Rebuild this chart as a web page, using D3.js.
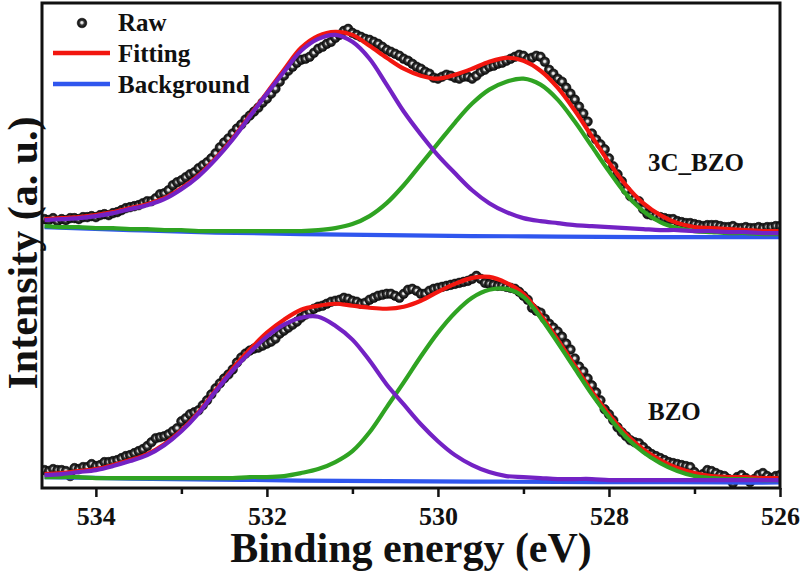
<!DOCTYPE html>
<html>
<head>
<meta charset="utf-8">
<script src="https://cdn.jsdelivr.net/npm/d3@7"></script>
<style>
  html, body { margin: 0; padding: 0; background: #fff; }
  svg { display: block; }
  text { font-family: "Liberation Serif", "Times New Roman", serif; font-weight: bold; fill: #111; }
</style>
</head>
<body>
<svg id="chart" width="800" height="572"></svg>
<script>
// ---------------- DATA ----------------
// Raw data energy grid: 534.60 -> 526.00 eV, step 0.05 eV
const rawStart = 534.6, rawStep = 0.05;
const rawEnergy = d3.range(173).map(i => +(rawStart - i * rawStep).toFixed(2));

// 3C_BZO raw intensities (a.u.)
const raw3C = [270,269,271,268,270,269,271,271,270,272,
  272,273,272,274,275,274,276,277,279,281,
  282,283,284,286,288,288,291,295,296,299,
  304,307,309,312,315,317,321,324,327,331,
  336,342,347,351,356,361,365,370,374,378,
  382,387,391,396,401,408,414,419,423,427,
  430,431,433,437,441,443,446,448,452,455,
  459,461,457,455,453,451,450,448,446,443,
  440,438,436,434,431,429,426,423,421,418,
  416,412,411,413,415,414,412,411,413,413,
  411,414,418,420,423,424,426,427,429,431,
  433,435,434,431,432,434,433,428,420,416,
  411,408,402,396,390,383,376,368,356,350,
  345,340,331,323,315,308,299,293,290,288,
  280,275,274,273,272,271,270,270,268,267,
  266,266,265,264,263,264,264,264,263,262,
  262,263,261,261,262,261,261,262,261,262,
  262,263,263];

// BZO raw intensities (a.u.)
const rawBZO = [18,17,19,18,18,17,12,20,19,21,
  21,24,22,23,26,26,27,28,30,32,
  33,35,37,39,42,46,50,51,52,54,
  57,60,67,70,74,76,78,83,88,94,
  100,105,110,114,119,126,131,135,138,140,
  141,143,145,147,150,155,158,161,164,167,
  171,174,177,180,182,183,185,187,188,189,
  191,190,188,187,185,186,189,191,193,194,
  195,195,193,191,195,199,200,198,195,195,
  198,200,201,202,203,204,205,206,207,208,
  210,213,210,206,205,204,203,203,202,201,
  200,197,193,189,181,178,176,170,165,161,
  157,152,145,139,130,122,117,110,103,96,
  88,79,74,68,61,56,52,48,46,45,
  41,37,34,32,30,28,26,25,24,23,
  22,21,16,10,14,18,17,15,13,12,
  9,5,11,13,10,6,9,13,15,12,
  10,12,13];

// Fit curve energy grid: 534.6 -> 526.0 eV, step 0.2 eV
const fitEnergy = d3.range(44).map(i => +(534.6 - i * 0.2).toFixed(1));

// 3C_BZO fit
const fit3C = [270,271,272,274,277,281,285,291,301,314,
  331,351,374,397,420,442,454,458,455,444,
  432,421,414,411,415,421,428,432,429,419,
  402,379,353,327,304,286,274,266,262,261,
  260,259,258,258];
const peakA3C = [269,270,271,273,276,280,284,290,300,313,
  330,350,373,396,418,439,451,455,448,431,
  405,378,355,334,316,299,286,277,271,268,
  266,264,263,262,261,260,259,259,258,258,
  257,257,256,256];
const peakB3C = [263,262,262,261,261,260,260,259,259,258,
  258,258,258,258,258,258,259,261,265,273,
  286,304,325,346,367,386,400,408,411,405,
  390,368,343,318,295,278,267,261,258,257,
  256,256,255,255];

// BZO fit
const fitBZO = [14,15,17,19,23,28,34,44,58,76,
  98,120,139,156,169,179,183,185,183,181,
  180,182,188,197,205,211,212,206,195,174,
  149,123,97,74,54,39,28,20,15,12,
  11,11,10,10];
const peakABZO = [13,14,16,18,22,27,33,43,57,75,
  97,118,136,152,164,171,172,163,149,128,
  104,84,64,47,33,23,16,12,11,10,
  9,9,9,8,8,8,8,8,8,8,
  8,8,8,8];
const peakBBZO = [11,11,11,10,10,10,10,10,10,10,
  10,10,11,11,12,15,19,26,37,56,
  81,106,132,156,176,191,199,200,192,171,
  146,120,94,71,51,36,25,17,12,10,
  9,9,8,8];

// Backgrounds
const bgEnergy = [534.6, 533.6, 532.6, 531.6, 530.6, 529.6, 528.6, 527.6, 526.6, 526.0];
const bg3C  = [262, 259, 256.5, 255, 254, 253, 252.5, 252, 252, 252];
const bgBZO = [11, 9.5, 8.5, 7.5, 7, 6.5, 6, 6, 5.5, 5.5];

const xTicks = [534, 532, 530, 528, 526];
const xMinorTicks = [533, 531, 529, 527];
const legendItems = ["Raw", "Fitting", "Background"];
const sampleLabels = ["3C_BZO", "BZO"];
const xTitle = "Binding energy (eV)";
const yTitle = "Intensity (a. u.)";

// ---------------- LAYOUT ----------------
const svg = d3.select("#chart");
const L = 42, R = 780, T = 3, B = 488;
const x = d3.scaleLinear().domain([534.63, 526]).range([L, R]);
const y = d3.scaleLinear().domain([0, 486]).range([B, T + 1]);

const colors = { fit: "#f2160f", bg: "#2f56ee", peakA: "#7322c4", peakB: "#2fa322" };

const defs = svg.append("defs");
const grad = defs.append("radialGradient").attr("id", "ball")
  .attr("cx", "50%").attr("cy", "50%").attr("r", "50%").attr("fx", "48%").attr("fy", "45%");
grad.append("stop").attr("offset", "0%").attr("stop-color", "#ffffff");
grad.append("stop").attr("offset", "25%").attr("stop-color", "#cfcfcf");
grad.append("stop").attr("offset", "48%").attr("stop-color", "#3a3a3a");
grad.append("stop").attr("offset", "100%").attr("stop-color", "#050505");
defs.append("clipPath").attr("id", "clip").append("rect")
  .attr("x", L).attr("y", T).attr("width", R - L).attr("height", B - T);

const plot = svg.append("g").attr("clip-path", "url(#clip)");

const line = d3.line().x(d => x(d[0])).y(d => y(d[1])).curve(d3.curveCatmullRom.alpha(0.5));
const zip = (xs, ys) => xs.map((v, i) => [v, ys[i]]);

function drawSpectrum(raw, fit, bg, pA, pB) {
  plot.append("g").selectAll("circle").data(zip(rawEnergy, raw)).join("circle")
    .attr("cx", d => x(d[0])).attr("cy", d => y(d[1])).attr("r", 4.8)
    .attr("fill", "url(#ball)").attr("stroke", "#111").attr("stroke-width", 0.6);
  const lw = 4.2;
  plot.append("path").attr("d", line(zip(fitEnergy, fit))).attr("fill", "none").attr("stroke", colors.fit).attr("stroke-width", lw);
  plot.append("path").attr("d", line(zip(bgEnergy, bg))).attr("fill", "none").attr("stroke", colors.bg).attr("stroke-width", lw);
  plot.append("path").attr("d", line(zip(fitEnergy, pB))).attr("fill", "none").attr("stroke", colors.peakB).attr("stroke-width", lw);
  plot.append("path").attr("d", line(zip(fitEnergy, pA))).attr("fill", "none").attr("stroke", colors.peakA).attr("stroke-width", lw);
}
drawSpectrum(raw3C, fit3C, bg3C, peakA3C, peakB3C);
drawSpectrum(rawBZO, fitBZO, bgBZO, peakABZO, peakBBZO);

// Frame
svg.append("rect").attr("x", L).attr("y", T).attr("width", R - L).attr("height", B - T)
  .attr("fill", "none").attr("stroke", "#111").attr("stroke-width", 3);

// X axis
const xAxis = d3.axisBottom(x).tickValues(xTicks).tickSize(9).tickPadding(8).tickFormat(d3.format("d"));
const gx = svg.append("g").attr("transform", `translate(0,${B})`).call(xAxis);
gx.select(".domain").remove();
gx.selectAll(".tick line").attr("stroke", "#111").attr("stroke-width", 2.5);
gx.selectAll(".tick text").attr("font-size", 26).attr("fill", "#111")
  .style("font-family", "'Liberation Serif', 'Times New Roman', serif").style("font-weight", "bold")
  .attr("dy", null).attr("y", 37);
const xMinor = d3.axisBottom(x).tickValues(xMinorTicks).tickSize(6).tickFormat("");
const gxm = svg.append("g").attr("transform", `translate(0,${B})`).call(xMinor);
gxm.select(".domain").remove();
gxm.selectAll(".tick line").attr("stroke", "#111").attr("stroke-width", 2.5);

// Axis titles
svg.append("text").attr("x", (L + R) / 2).attr("y", 562).attr("text-anchor", "middle")
  .attr("font-size", 42).text(xTitle);
svg.append("text").attr("transform", `translate(37,${253}) rotate(-90)`).attr("text-anchor", "middle")
  .attr("font-size", 42).text(yTitle);

// Legend
const lg = svg.append("g");
lg.append("circle").attr("cx", 82).attr("cy", 23).attr("r", 4.8).attr("fill", "url(#ball)").attr("stroke", "#111").attr("stroke-width", 0.6);
lg.append("line").attr("x1", 53).attr("x2", 110).attr("y1", 53).attr("y2", 53).attr("stroke", colors.fit).attr("stroke-width", 4.5);
lg.append("line").attr("x1", 53).attr("x2", 110).attr("y1", 84).attr("y2", 84).attr("stroke", colors.bg).attr("stroke-width", 4.5);
lg.selectAll("text").data(legendItems).join("text")
  .attr("x", 118).attr("y", (d, i) => 31 + i * 31).attr("font-size", 25).text(d => d);

// Sample labels
svg.append("text").attr("x", 648).attr("y", 171).attr("font-size", 25).text(sampleLabels[0]);
svg.append("text").attr("x", 648).attr("y", 420).attr("font-size", 25).text(sampleLabels[1]);
</script>
</body>
</html>
